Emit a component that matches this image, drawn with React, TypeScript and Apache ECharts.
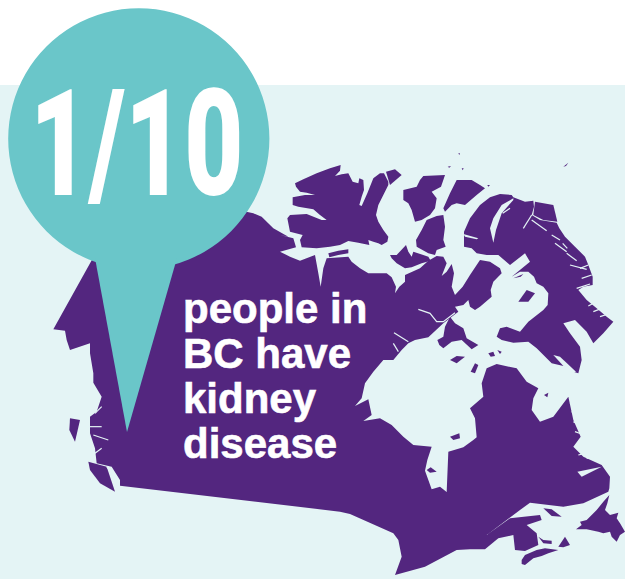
import React, { useEffect, useRef } from "react";
import * as echarts from "echarts";

const headline = "1/10";
const captionLines = ["people in", "BC have", "kidney", "disease"];

const WHITE = "#ffffff";
const WATER = "#E4F4F5";
const LAND = "#53267F";
const TEAL = "#6AC6C9";

type P = [number, number];
const mapper = (ox: number, oy: number) => (f: number[]): P[] => {
  const out: P[] = [];
  for (let i = 0; i < f.length; i += 2) out.push([ox + f[i] / 3, oy + f[i + 1] / 3]);
  return out;
};
const z1 = mapper(280, 140);
const z2 = mapper(340, 340);
const z3 = mapper(40, 200);
const z4 = mapper(470, 490);

const mainland: P[] = [
  ...z3([40, 388, 200, 100, 500, 10, 640, 40, 665, 50, 700, 85, 745, 110]),
  ...z1([0, 285, 40, 295, 48, 322, 0, 335, 30, 350, 60, 362, 105, 345, 115, 400, 122, 440, 130, 385, 140, 355, 205, 350, 215, 365, 240, 385, 265, 400, 295, 400, 320, 400, 335, 412, 348, 440, 345, 460, 358, 440, 375, 425, 375, 405, 420, 385, 445, 362, 470, 348, 490, 350, 500, 370, 485, 408, 500, 395, 515, 372, 522, 400, 515, 440, 525, 465, 548, 440, 570, 405, 590, 375, 600, 360, 630, 365, 660, 385, 665, 400, 640, 425, 632, 450, 635, 470, 600, 500, 585, 510, 570, 500, 565, 480, 550, 495, 525, 500, 535, 515, 490, 550, 445, 592, 405, 600, 385, 610, 365, 630, 340, 660]),
  ...z2([130, 60, 100, 95, 75, 130, 65, 175, 45, 198, 85, 178, 95, 225, 70, 243, 120, 235, 155, 255, 190, 290, 220, 315, 275, 320, 262, 360, 255, 392, 275, 448, 300, 440, 320, 456, 325, 335, 370, 322, 400, 300, 410, 292, 405, 235, 390, 205, 430, 170, 425, 130, 440, 85, 470, 72, 530, 85, 560, 125, 595, 145, 580, 175, 575, 210, 600, 245, 640, 230, 685, 170, 700, 240, 722, 290, 700, 320, 730, 350, 785, 375, 810, 410, 808, 445]),
  ...z4([415, 5, 340, 40, 280, 50, 180, 38, 150, 60, 50, 135, 120, 85, 210, 75, 215, 90, 170, 105, 200, 130, 205, 165, 165, 183, 135, 180, 130, 135, 85, 145, 45, 178, 0, 178]),
  ...z2([350, 630, 255, 680, 165, 705, 185, 650, 175, 600, 160, 580, 30, 522, 0, 515]),
  ...z3([240, 857, 240, 840, 215, 800, 170, 790, 165, 745, 150, 700, 150, 650, 170, 635, 185, 590, 160, 548, 160, 520, 150, 460, 150, 430, 90, 450, 80, 420, 75, 392]),
];

const islands: P[][] = [
  z1([45, 130, 70, 118, 110, 100, 150, 85, 182, 75, 180, 92, 165, 108, 185, 103, 205, 100, 218, 125, 235, 130, 238, 115, 250, 120, 252, 150, 245, 170, 238, 195, 245, 198, 262, 160, 280, 115, 300, 100, 312, 100, 325, 125, 325, 135, 310, 165, 295, 195, 288, 225, 295, 245, 310, 270, 325, 290, 322, 305, 305, 315, 295, 310, 280, 305, 265, 300, 268, 315, 235, 308, 205, 303, 180, 315, 150, 320, 110, 325, 65, 322, 60, 300, 68, 285, 30, 275, 22, 235, 30, 225, 80, 222, 125, 240, 140, 240, 120, 225, 100, 208, 55, 200, 38, 195, 38, 172, 75, 165, 105, 165, 80, 158, 60, 155, 48, 140]),
  z1([318, 95, 345, 88, 365, 105, 330, 135]),
  z1([145, 340, 175, 332, 205, 328, 205, 340, 175, 345, 148, 352]),
  z1([370, 150, 410, 140, 420, 120, 430, 108, 495, 105, 490, 120, 483, 140, 455, 155, 470, 175, 465, 205, 450, 225, 425, 240, 405, 245, 395, 210, 385, 190, 370, 180]),
  z1([490, 205, 510, 160, 530, 120, 575, 120, 600, 135, 615, 145, 590, 165, 555, 195, 530, 190, 515, 195, 495, 215]),
  z1([408, 300, 425, 270, 440, 240, 470, 228, 490, 225, 495, 260, 490, 300, 497, 320, 470, 330, 465, 345, 445, 340, 410, 320]),
  z1([330, 345, 350, 345, 378, 315, 385, 335, 395, 350, 400, 335, 445, 350, 452, 362, 425, 370, 395, 382, 375, 385, 350, 370, 335, 355]),
  // Baffin and neighbours
  z1([552, 275, 570, 235, 600, 195, 630, 172, 660, 162, 695, 165, 700, 172, 735, 185, 760, 182, 762, 200, 755, 225, 780, 240, 830, 248, 838, 265, 855, 290, 885, 320, 915, 350, 925, 375, 938, 410, 938, 435, 910, 440, 895, 450, 920, 480, 950, 505, 980, 530, 1000, 545, 970, 580, 940, 610, 920, 575, 885, 540, 850, 550, 870, 580, 900, 620, 905, 660, 895, 700, 880, 695, 860, 680, 815, 670, 800, 655, 770, 625, 745, 605, 700, 608, 665, 600, 650, 590, 660, 565, 680, 560, 720, 575, 745, 545, 790, 510, 803, 495, 805, 460, 790, 440, 770, 430, 762, 410, 745, 395, 720, 395, 695, 410, 750, 365, 735, 340, 690, 375, 655, 345, 620, 345, 590, 340, 575, 325, 552, 320]),
  z1([765, 185, 820, 195, 832, 245, 790, 240, 760, 225]),
  // Southampton
  z1([472, 600, 490, 590, 495, 560, 510, 530, 525, 550, 550, 565, 560, 595, 595, 615, 575, 628, 545, 600, 515, 605, 490, 625, 478, 615]),
  // Small Arctic & bay islands
  z1([850, 80, 865, 68, 858, 78]),
  z1([503, 80, 513, 78, 508, 83]),
  z1([545, 85, 551, 85, 548, 91]),
  z1([535, 40, 540, 40, 538, 45]),
  z1([622, 135, 630, 135, 625, 140]),
  z2([330, 60, 350, 48, 375, 50, 350, 70]),
  z2([392, 95, 405, 70, 415, 75, 405, 100]),
  z2([445, 40, 460, 35, 465, 48, 452, 50]),
  z2([472, 30, 485, 35, 480, 42]),
  z2([330, 290, 358, 280, 360, 295, 340, 300]),
  z2([260, 390, 272, 382, 290, 395, 270, 398]),
  z2([612, 165, 625, 158, 622, 172]),
  // Anticosti, PEI, Nova Scotia, Cape Breton, Newfoundland
  z4([220, 55, 245, 58, 275, 80, 245, 78]),
  z4([205, 140, 220, 150, 245, 152, 245, 162, 220, 160]),
  z4([155, 210, 165, 195, 200, 180, 225, 175, 265, 180, 235, 190, 215, 198, 190, 205, 165, 225, 155, 222]),
  z4([265, 170, 285, 140, 300, 165, 280, 172]),
  z4([318, 118, 335, 105, 330, 95, 350, 90, 365, 75, 380, 60, 400, 35, 418, 15, 412, 40, 405, 60, 420, 75, 445, 68, 440, 85, 450, 100, 465, 125, 450, 135, 440, 155, 425, 140, 420, 125, 400, 130, 385, 125, 350, 118]),
  // Haida Gwaii, Vancouver Island
  z3([90, 655, 120, 660, 105, 725, 88, 690]),
  z3([145, 785, 200, 800, 225, 875, 180, 850, 150, 810]),
];

// Water drawn back over the land: inlets and lakes
const waterAreas: P[][] = [
  z1([700, 175, 665, 195, 640, 235, 630, 265, 640, 308, 648, 270, 665, 220, 700, 180]),
  z1([550, 282, 595, 295, 590, 298, 555, 290]),
  z2([640, 45, 660, 50, 708, 95, 690, 100]),
  z2([712, 395, 785, 380, 725, 410]),
];
const fjords: P[][] = [
  z1([415, 508, 450, 520, 470, 545, 490, 545, 525, 518]),
  z1([755, 225, 730, 265]),
  z1([755, 240, 800, 272]),
  z1([815, 285, 840, 300]),
  z1([825, 310, 860, 335]),
  z1([860, 340, 890, 362]),
  z1([870, 375, 920, 388]),
  z1([905, 415, 935, 405]),
  z1([890, 445, 930, 432]),
  z1([925, 498, 948, 485]),
  z1([960, 530, 985, 522]),
  z1([342, 578, 385, 605]),
  z1([340, 610, 355, 635]),
  z1([668, 220, 690, 205]),
  z1([848, 310, 862, 325]),
  z1([900, 385, 925, 375]),
  z1([940, 515, 965, 505]),
  z2([690, 190, 705, 195]),
  z2([695, 215, 712, 222]),
  z2([700, 245, 720, 255]),
  z2([705, 275, 725, 282]),
  z2([715, 345, 735, 340]),
  z2([740, 355, 760, 350]),
  z3([185, 620, 165, 640]),
  z3([145, 680, 185, 680]),
  z3([160, 705, 205, 720]),
  z3([165, 760, 185, 745]),
  z3([200, 800, 225, 830]),
];
const lakesOfLand: P[][] = [
  z1([715, 485, 740, 450, 765, 460, 745, 485]),
  z1([700, 415, 730, 402, 722, 410]),
];

const poly = (points: P[], fill: string) => ({ type: "polygon", silent: true, shape: { points }, style: { fill } });

export default function App() {
  const ref = useRef<HTMLDivElement>(null);
  useEffect(() => {
    document.body.style.margin = "0";
    const chart = echarts.init(ref.current!, undefined, { renderer: "svg" });
    chart.setOption({
      animation: false,
      backgroundColor: WHITE,
      graphic: [
        { type: "rect", silent: true, shape: { x: 0, y: 85, width: 625, height: 494 }, style: { fill: WATER } },
        poly(mainland, LAND),
        ...islands.map((p) => poly(p, LAND)),
        ...waterAreas.map((p) => poly(p, WATER)),
        ...fjords.map((p) => ({ type: "polyline", silent: true, shape: { points: p }, style: { stroke: WATER, lineWidth: 1.2, fill: "none" } })),
        ...lakesOfLand.map((p) => poly(p, LAND)),
        { type: "circle", silent: true, shape: { cx: 138.8, cy: 138.8, r: 130.6 }, style: { fill: TEAL } },
        { type: "polygon", silent: true, shape: { points: [[95, 258], [127, 432], [177, 258]] }, style: { fill: TEAL } },
        {
          type: "text", silent: true, x: 30, y: 70, scaleX: 0.69, scaleY: 1,
          style: { text: headline, fill: WHITE, font: '900 148px "Roboto"', textAlign: "left", verticalAlign: "top" },
        },
        ...captionLines.map((line, i) => ({
          type: "text", silent: true, x: 183, y: 287 + i * 45,
          style: { text: line, fill: WHITE, stroke: WHITE, lineWidth: 0.6, font: 'bold 42px "Liberation Sans"', textAlign: "left", verticalAlign: "top" },
        })),
      ],
    });
    return () => chart.dispose();
  }, []);
  return <div ref={ref} style={{ width: 625, height: 579 }} />;
}
